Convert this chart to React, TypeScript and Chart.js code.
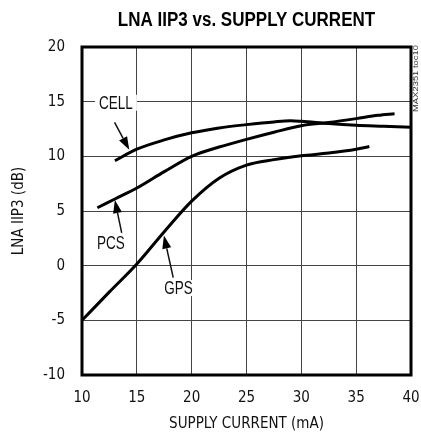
import React, { useEffect, useRef } from "react";
import { Chart, registerables } from "chart.js";

Chart.register(...registerables);

const AXIS_FONT = '"DejaVu Sans Condensed", "Liberation Sans", sans-serif';
const TEXT_FONT = '"Liberation Sans", Arial, sans-serif';

const TITLE = "LNA IIP3 vs. SUPPLY CURRENT";
const X_TITLE = "SUPPLY CURRENT (mA)";
const Y_TITLE = "LNA IIP3 (dB)";
const TOC = "MAX2351 toc10";

const X_MIN = 10, X_MAX = 40, X_STEP = 5;
const Y_MIN = -10, Y_MAX = 20, Y_STEP = 5;

// CELL series
const cellX = [13.0, 15, 17.5, 20, 22.5, 25, 27.5, 29, 30, 32.5, 35, 37.5, 40];
const cellY = [9.6, 10.65, 11.5, 12.15, 12.6, 12.9, 13.15, 13.25, 13.2, 13.0, 12.85, 12.75, 12.65];

// PCS series
const pcsX = [11.4, 13, 15, 17.5, 20, 22.5, 25, 27.5, 30, 32.5, 35, 37, 38.5];
const pcsY = [5.3, 6.1, 7.1, 8.6, 10.0, 10.85, 11.55, 12.2, 12.8, 13.1, 13.45, 13.75, 13.9];

// GPS series
const gpsX = [10, 12.5, 15, 17.5, 20, 22.5, 25, 27.5, 30, 32.5, 35, 36.2];
const gpsY = [-5, -2.4, 0.15, 3.1, 5.9, 8.0, 9.2, 9.7, 10.05, 10.3, 10.65, 10.9];

// Labels (data coordinates): text position, arrow tail, arrow tip
const labelNames = ["CELL", "PCS", "GPS"];
const labelPos = [[13.1, 14.9], [12.63, 2.1], [18.8, -2.05]];
const arrowTail = [[12.97, 13.1], [13.62, 3.0], [18.32, -1.1]];
const arrowTip = [[14.31, 10.6], [13.0, 6.0], [17.47, 2.75]];

const toPts = (xs: number[], ys: number[]) => xs.map((x, i) => ({ x, y: ys[i] }));

const annotPlugin = {
  id: "annot",
  afterDatasetsDraw(chart: any) {
    const { ctx, chartArea, scales } = chart;
    const xs = scales.x, ys = scales.y;
    ctx.save();
    // frame
    ctx.strokeStyle = "#000";
    ctx.lineWidth = 3;
    ctx.strokeRect(chartArea.left, chartArea.top, chartArea.right - chartArea.left, chartArea.bottom - chartArea.top);

    // title, condensed
    ctx.save();
    ctx.font = `bold 20px ${TEXT_FONT}`;
    ctx.textAlign = "center";
    ctx.textBaseline = "middle";
    ctx.fillStyle = "#000";
    ctx.translate((chartArea.left + chartArea.right) / 2, 20);
    ctx.scale(0.85, 1);
    ctx.fillText(TITLE, 0, 0);
    ctx.restore();

    const sx = 0.75;
    labelNames.forEach((name, i) => {
      const px = xs.getPixelForValue(labelPos[i][0]);
      const py = ys.getPixelForValue(labelPos[i][1]);
      ctx.save();
      ctx.font = `18px ${TEXT_FONT}`;
      const w = ctx.measureText(name).width * sx;
      ctx.fillStyle = "#fff";
      ctx.fillRect(px - w / 2 - 4, py - 8, w + 8, 16);
      ctx.translate(px, py + 1);
      ctx.scale(sx, 1);
      ctx.textAlign = "center";
      ctx.textBaseline = "middle";
      ctx.fillStyle = "#111";
      ctx.fillText(name, 0, 0);
      ctx.restore();

      const tx = xs.getPixelForValue(arrowTail[i][0]);
      const ty = ys.getPixelForValue(arrowTail[i][1]);
      const hx = xs.getPixelForValue(arrowTip[i][0]);
      const hy = ys.getPixelForValue(arrowTip[i][1]);
      const ang = Math.atan2(hy - ty, hx - tx);
      const headLen = 13, headW = 4.5;
      const bx = hx - headLen * Math.cos(ang);
      const by = hy - headLen * Math.sin(ang);
      ctx.strokeStyle = "#111";
      ctx.lineWidth = 1.5;
      ctx.beginPath();
      ctx.moveTo(tx, ty);
      ctx.lineTo(bx, by);
      ctx.stroke();
      ctx.beginPath();
      ctx.moveTo(hx, hy);
      ctx.lineTo(bx + headW * Math.sin(ang), by - headW * Math.cos(ang));
      ctx.lineTo(bx - headW * Math.sin(ang), by + headW * Math.cos(ang));
      ctx.closePath();
      ctx.fillStyle = "#000";
      ctx.fill();
    });

    // side code text
    ctx.translate(chartArea.right + 5.5, chartArea.top - 2);
    ctx.rotate(-Math.PI / 2);
    ctx.font = `7px ${TEXT_FONT}`;
    const tw = ctx.measureText(TOC).width;
    ctx.scale(67 / tw, 1);
    ctx.textAlign = "right";
    ctx.textBaseline = "middle";
    ctx.fillStyle = "#333";
    ctx.fillText(TOC, 0, 0);
    ctx.restore();
  },
};

export default function App() {
  const ref = useRef<HTMLCanvasElement>(null);
  useEffect(() => {
    document.body.style.margin = "0";
    const line = (label: string, data: any[]) => ({
      label,
      data,
      borderColor: "#000",
      borderWidth: 3,
      pointRadius: 0,
      tension: 0.4,
      cubicInterpolationMode: "monotone" as const,
      fill: false,
    });
    const chart = new Chart(ref.current!, {
      type: "line",
      data: {
        datasets: [
          line("CELL", toPts(cellX, cellY)),
          line("PCS", toPts(pcsX, pcsY)),
          line("GPS", toPts(gpsX, gpsY)),
        ],
      },
      options: {
        responsive: false,
        animation: false,
        layout: { padding: { top: 47, right: 0, bottom: 0, left: 0 } },
        plugins: {
          legend: { display: false },
          tooltip: { enabled: false },
          title: { display: false },
        },
        scales: {
          x: {
            type: "linear",
            min: X_MIN,
            max: X_MAX,
            ticks: { stepSize: X_STEP, color: "#111", padding: 14, font: { family: AXIS_FONT, size: 15 } },
            grid: { color: "#444", lineWidth: 1, drawTicks: false },
            border: { display: false },
            title: {
              display: true,
              text: X_TITLE,
              color: "#111",
              font: { family: AXIS_FONT, size: 15 },
              padding: { top: 0, bottom: 2.5 },
            },
            afterFit: (s: any) => {
              s.height = 61;
              s.paddingLeft = 0;
              s.paddingRight = 10;
            },
          },
          y: {
            type: "linear",
            min: Y_MIN,
            max: Y_MAX,
            ticks: { stepSize: Y_STEP, color: "#111", padding: 17, font: { family: AXIS_FONT, size: 15 } },
            grid: { color: "#444", lineWidth: 1, drawTicks: false },
            border: { display: false },
            title: {
              display: true,
              text: Y_TITLE,
              color: "#111",
              font: { family: AXIS_FONT, size: 15 },
              padding: { top: 10.5, bottom: 0 },
            },
            afterFit: (s: any) => {
              s.width = 82;
              s.paddingTop = 0;
              s.paddingBottom = 0;
            },
          },
        },
      },
      plugins: [annotPlugin],
    });
    return () => chart.destroy();
  }, []);
  return <canvas ref={ref} width={421} height={436} style={{ display: "block" }} />;
}
